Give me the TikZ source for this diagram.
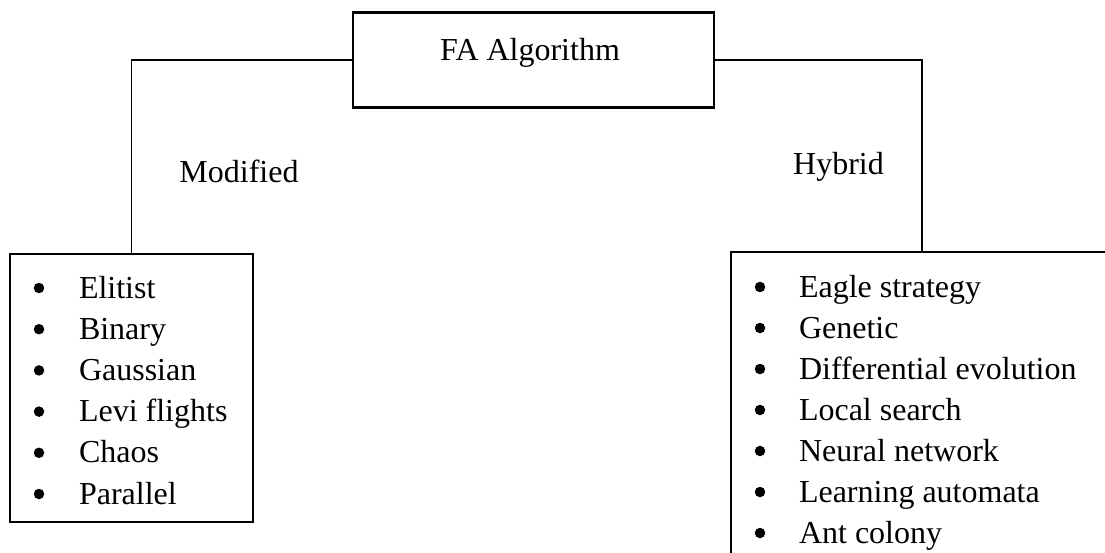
\documentclass[tikz,border=0pt]{standalone}
\usepackage{fontspec}
\setmainfont{Liberation Serif}
\begin{document}
\begin{tikzpicture}[x=1pt,y=-1pt,
  txt/.style={font=\fontsize{32}{38}\selectfont, inner sep=0pt, outer sep=0pt},
  boxed/.style={draw, line width=2.4pt, inner sep=0pt, outer sep=0pt, fill=none},
  conn/.style={line width=1.2pt},
  bul/.style={circle, fill=black, inner sep=0pt, minimum size=10.5pt},
  itm/.style={txt, anchor=base west}]
\useasboundingbox (0,0) rectangle (1105,552);
\clip (0,0) rectangle (1105,552);
\fill[white] (0,0) rectangle (1105,552);
% boxes
\node[boxed, minimum width=361pt, minimum height=95pt] (fa) at (533.5,60) {};
\node[boxed, minimum width=243pt, minimum height=268pt] (mod) at (131.5,388) {};
\node[boxed, minimum width=382pt, minimum height=348pt] (hyb) at (922,426) {};
% texts
\node[txt, anchor=base] (fatxt) at (530,60) {FA Algorithm};
\node[txt, anchor=base] (modlbl) at (239,182) {Modified};
\node[txt, anchor=base] (hyblbl) at (838.5,174) {Hybrid};
% connectors
\draw[conn] (fa.west) -| (mod.north);
\draw[conn] (fa.east) -| (hyb.north);
% left list
\foreach \t [count=\i] in {Elitist,Binary,Gaussian,Levi flights,Chaos,Parallel}{
  \node[bul] (lb\i) at (39,{288+41.2*(\i-1)}) {};
  \node[itm] (li\i) at (79,{298+41.2*(\i-1)}) {\t};
}
% right list
\foreach \t [count=\i] in {Eagle strategy,Genetic,Differential evolution,Local search,Neural network,Learning automata,Ant colony}{
  \node[bul] (rb\i) at (760,{287+41*(\i-1)}) {};
  \node[itm] (ri\i) at (799,{297+41*(\i-1)}) {\t};
}
\end{tikzpicture}
\end{document}
